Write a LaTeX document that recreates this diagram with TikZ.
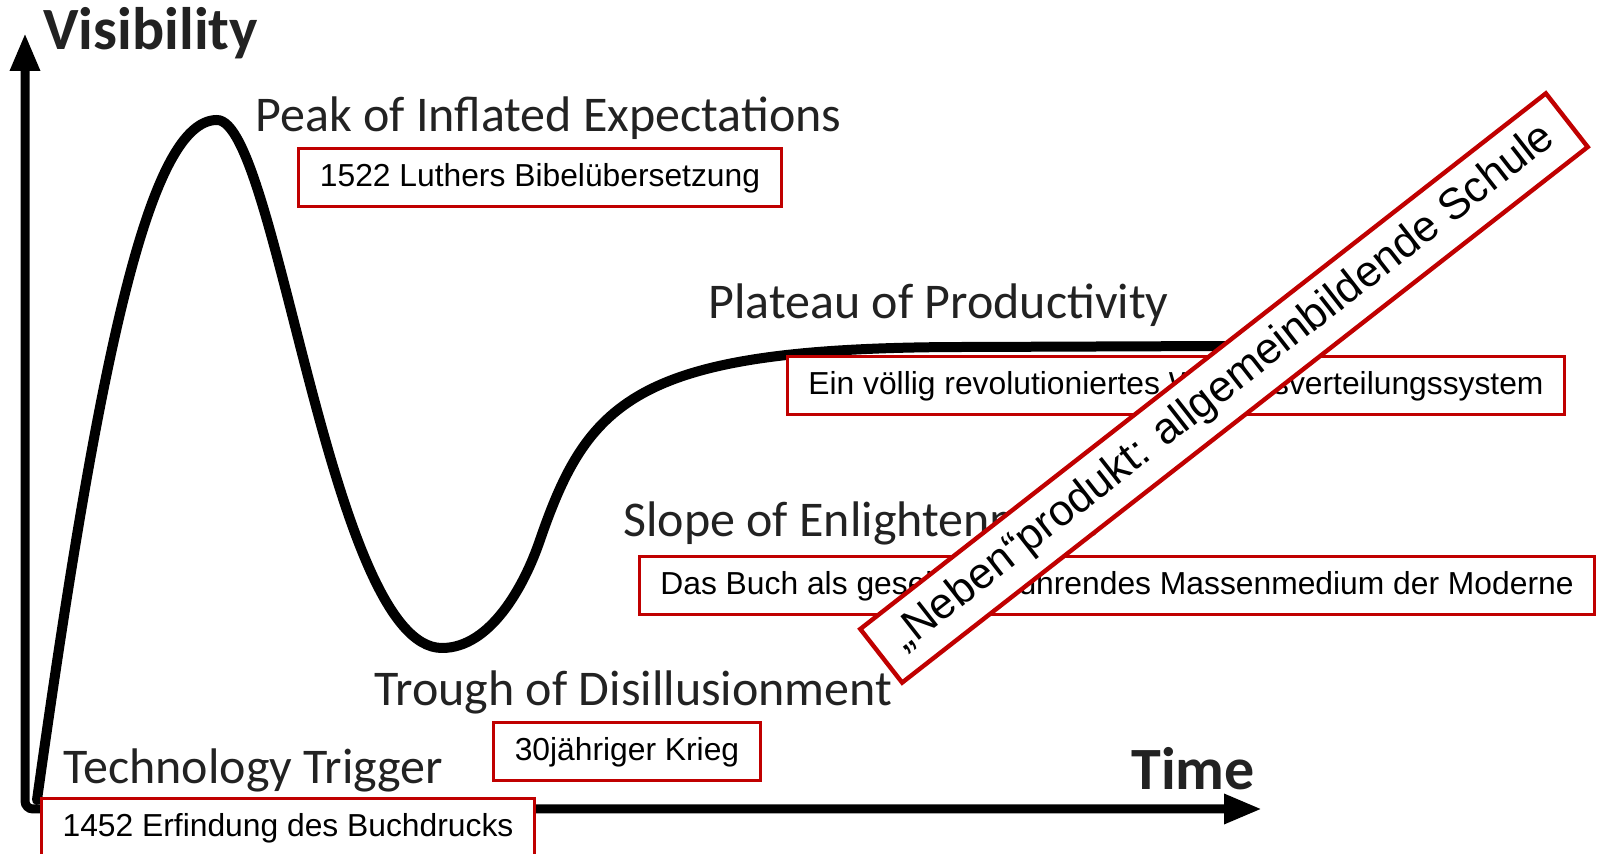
\documentclass[tikz,border=0pt]{standalone}
\usepackage{fontspec}
\setmainfont{Liberation Sans}
\newfontfamily\phasefont{Carlito}
\usetikzlibrary{arrows.meta}
\definecolor{boxred}{HTML}{C00000}
\definecolor{phasegray}{HTML}{222222}
\tikzset{
	event/.style={draw=boxred,line width=1.5pt,fill=white,inner xsep=10.5pt,inner ysep=0pt,minimum height=29pt,font=\fontsize{15.9}{19}\selectfont},
	phase/.style={anchor=base west,inner sep=0pt,text=phasegray,font=\phasefont\fontsize{25}{30}\selectfont},
	axislabel/.style={phase,font=\phasefont\bfseries\fontsize{30}{36}\selectfont},
	banner/.style={draw=boxred,line width=2.2pt,fill=white,rotate=38,minimum width=435pt,minimum height=34pt,inner sep=0pt,font=\fontsize{21.8}{26}\selectfont},
}

\begin{document}
\begin{tikzpicture}[x=0.5pt,y=-0.5pt]
	\useasboundingbox (0,0) rectangle (1597,854);
	\clip (0,0) rectangle (1597,854);
	
	%AXES
	\coordinate (vistip) at (25,33);
	\coordinate (origin) at (25,809);
	\coordinate (timetip) at (1262,809);
	\draw[line width=4.5pt,rounded corners=4pt,{Triangle[length=19pt,width=14pt]}-{Triangle[length=19pt,width=14pt]}] (vistip)--(origin)--(timetip);
	
	%HYPE CURVE
	\draw[line width=5pt,line cap=round,line join=round]
		(37,800) .. controls (100,350) and (150,120) .. (217,120)		%peak
		.. controls (277,120) and (330,648) .. (442,648)				%trough
		.. controls (490,648) and (524,587) .. (540,540)
		.. controls (589,398) and (638,347) .. (968,347)				%plateau
		-- (1228,346);
	
	%PHASES
	\node[axislabel] (visibility) at (43,50) {Visibility};
	\node[axislabel] (time) at (1131,790) {Time};
	\node[phase] (peak) at (255,132) {Peak of Inflated Expectations};
	\node[phase] (plateau) at (708,319) {Plateau of Productivity};
	\node[phase] (slope) at (623,537) {Slope of Enlightenment};
	\node[phase] (trough) at (374,706) {Trough of Disillusionment};
	\node[phase] (trigger) at (63,784) {Technology Trigger};
	
	%EVENTS
	\node[event] (bibel) at (540,178) {1522 Luthers Bibelübersetzung};
	\node[event] (wissen) at (1176,386) {Ein völlig revolutioniertes Wissensverteilungssystem};
	\node[event] (buch) at (1117,586) {Das Buch als gesellsch. führendes Massenmedium der Moderne};
	\node[event] (krieg) at (627,752) {30jähriger Krieg};
	\node[event] (druck) at (288,828) {1452 Erfindung des Buchdrucks};	%cut by the lower edge
	
	%BANNER
	\node[banner] (schule) at (1224,388) {„Neben“produkt: allgemeinbildende Schule};
\end{tikzpicture}
\end{document}
